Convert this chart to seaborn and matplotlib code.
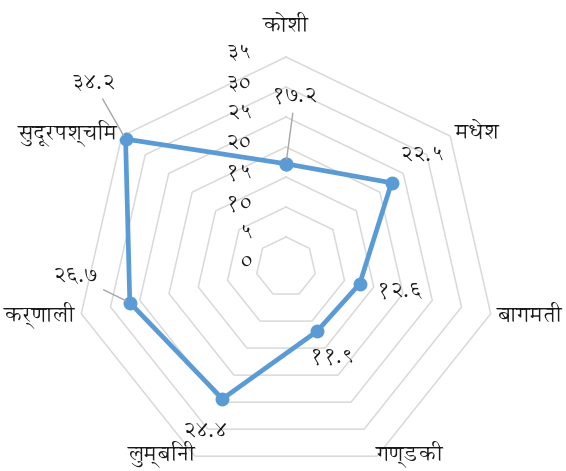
import numpy as np
import pandas as pd
import matplotlib
matplotlib.use("Agg")
import matplotlib.pyplot as plt
import seaborn as sns

# data
provinces = ["कोशी", "मधेश", "बागमती", "गण्डकी", "लुम्बिनी", "कर्णाली", "सुदूरपश्चिम"]
values = [17.2, 22.5, 12.6, 11.9, 24.4, 26.7, 34.2]
ring_levels = [0, 5, 10, 15, 20, 25, 30, 35]

DEVA_DIGITS = str.maketrans("0123456789", "०१२३४५६७८९")


def to_deva(s):
    return str(s).translate(DEVA_DIGITS)


sns.set_theme(style="white")
plt.rcParams["font.family"] = ["Annapurna SIL", "Noto Sans Devanagari", "DejaVu Sans"]

n = len(provinces)
theta = np.arange(n) * 2 * np.pi / n

fig = plt.figure(figsize=(5.66, 4.71), dpi=100)
R = 210  # px radius of 35 ring
cx, cy = 286, 471 - 267
ax = fig.add_axes([(cx - R) / 566, (cy - R) / 471, 2 * R / 566, 2 * R / 471], projection="polar")
ax.set_theta_zero_location("N")
ax.set_theta_direction(-1)
ax.set_ylim(0, 35)
ax.grid(False)
ax.set_xticks([])
ax.set_yticks([])
ax.spines["polar"].set_visible(False)
ax.set_facecolor("none")

# heptagon grid rings
closed_theta = np.append(theta, theta[0])
for lv in ring_levels[1:]:
    ax.plot(closed_theta, [lv] * (n + 1), color="#d9d9d9", lw=1.1, zorder=1, clip_on=False)

# tick labels along the top axis
for lv in ring_levels:
    ax.annotate(to_deva(lv), xy=(0, lv), xytext=(-34, 3), textcoords="offset pixels",
                ha="right", va="center", fontsize=16, color="#1a1a1a", annotation_clip=False)

# data series
df = pd.DataFrame({"theta": np.append(theta, 2 * np.pi), "value": values + [values[0]]})
sns.lineplot(data=df, x="theta", y="value", ax=ax, color="#5b9bd5", lw=3.4,
             marker="o", markersize=10, markeredgewidth=0, sort=True, zorder=3)
ax.set_xlabel("")
ax.set_ylabel("")

# category labels
label_pos = [(40.3, "center", "center"), (36, "left", "center"), (36, "left", "center"),
             (34.6, "left", "center"), (34.6, "right", "center"), (36, "right", "center"),
             (36, "right", "center")]
for t, name, (r, ha, va) in zip(theta, provinces, label_pos):
    ax.text(t, r, name, ha=ha, va=va, fontsize=16, color="#1a1a1a", clip_on=False)

# value labels (offsets in pixels), some with leader lines
offsets = [(9, 67), (30, 27), (40, -8), (16, -26), (-18, -33), (-55, 27), (-32, 56)]
leader = [True, False, False, False, False, True, True]
for t, v, (dx, dy), ld in zip(theta, values, offsets, leader):
    props = dict(arrowstyle="-", color="#a6a6a6", lw=1, shrinkA=3, shrinkB=3) if ld else None
    ax.annotate(to_deva(f"{v:.1f}"), xy=(t, v), xytext=(dx, dy), textcoords="offset pixels",
                ha="center", va="center", fontsize=16, color="#1a1a1a",
                arrowprops=props, annotation_clip=False)

fig.savefig("out.png", dpi=100, facecolor="white")
